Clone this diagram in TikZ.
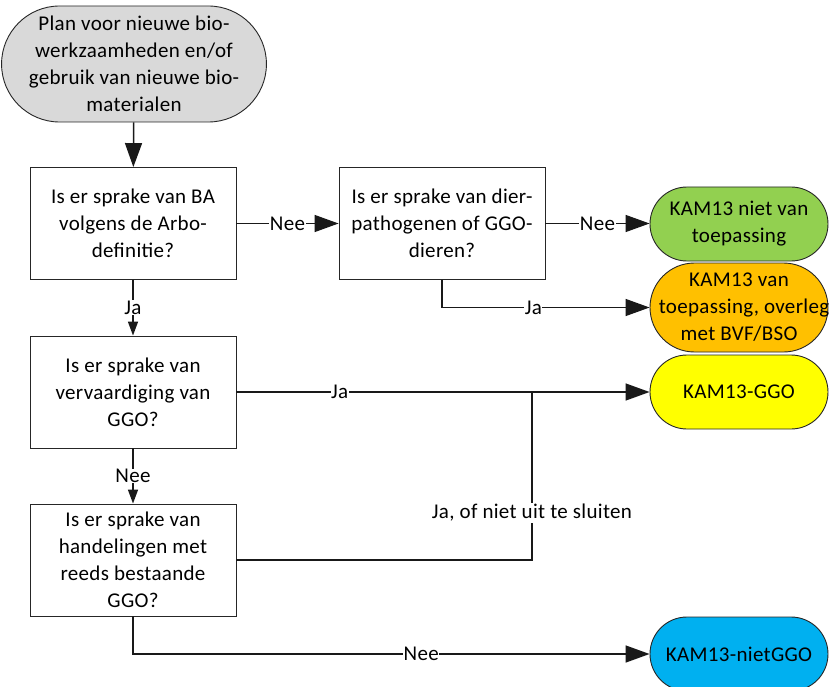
\documentclass[tikz,border=0pt]{standalone}
\usepackage{fontspec}
\setmainfont[LetterSpace=1.5]{Carlito}
\usetikzlibrary{arrows.meta,shapes.misc}
\definecolor{startgray}{HTML}{D9D9D9}
\definecolor{kgreen}{HTML}{92D050}
\definecolor{korange}{HTML}{FFC000}
\definecolor{kyellow}{HTML}{FFFF00}
\definecolor{kblue}{HTML}{00B0F0}
\tikzset{
  basefont/.style={font=\fontsize{21}{27}\selectfont},
  qbox/.style={basefont, draw=black!85, line width=0.9pt, rectangle, minimum width=206pt, minimum height=112pt, align=center, inner sep=2pt},
  term/.style={basefont, draw=black!85, line width=0.9pt, rounded rectangle, minimum width=182pt, minimum height=74pt, align=center, inner sep=2pt},
  conn/.style={line width=1.5pt, draw=black!90},
  bigarr/.style={conn, -{Triangle[length=24pt,width=17pt]}},
  smallarr/.style={conn, -{Triangle[length=14pt,width=10pt]}},
  lbl/.style={basefont, fill=white, inner sep=0.6pt, text=black}
}
\begin{document}
\begin{tikzpicture}[x=1pt,y=-1pt]
\clip (0,0) rectangle (830,687);
\fill[white] (0,0) rectangle (830,687);

\node[term, fill=startgray, minimum width=252pt, minimum height=116pt] (start) at (134,64)
  {Plan voor nieuwe bio-\\werkzaamheden en/of\\gebruik van nieuwe bio-\\materialen};

\node[qbox] (b1) at (133,223.5) {Is er sprake van BA\\volgens de Arbo-\\definitie?};
\node[qbox] (b2) at (442,223.5) {Is er sprake van dier-\\pathogenen of GGO-\\dieren?};
\node[qbox] (b3) at (133,392) {Is er sprake van\\vervaardiging van\\GGO?};
\node[qbox] (b4) at (133,560) {Is er sprake van\\handelingen met\\reeds bestaande\\GGO?};

\node[term, fill=kgreen] (tg) at (739,224) {KAM13 niet van\\toepassing};
\node[term, fill=korange, minimum height=89pt] (to) at (739,307.5) {KAM13 van\\\makebox[120pt][c]{\hspace*{10pt}toepassing, overleg}\\met BVF/BSO};
\node[term, fill=kyellow] (ty) at (739,392) {KAM13-GGO};
\node[term, fill=kblue] (tb) at (739,654) {KAM13-nietGGO};

\coordinate (j) at (532,392);

\draw[bigarr] (start) -- (b1);
\draw[bigarr] (b1) -- node[lbl]{Nee} (b2);
\draw[bigarr] (b2.east) -- node[lbl]{Nee} (b2.east -| tg.west);
\draw[bigarr] (b2.south) |- node[lbl, pos=0.72]{Ja} (to.west);
\draw[smallarr] (b1) -- node[lbl]{Ja} (b3);
\draw[smallarr] (b3) -- node[lbl]{Nee} (b4);
\draw[bigarr] (b3.east) -- node[lbl, pos=0.25]{Ja} (ty.west);
\draw[conn] (b4.east) -| node[lbl, pos=0.64, inner sep=1.5pt]{Ja, of niet uit te sluiten} (j);
\draw[bigarr] (b4.south) |- node[lbl, pos=0.779]{Nee} (tb.west);
\end{tikzpicture}
\end{document}
